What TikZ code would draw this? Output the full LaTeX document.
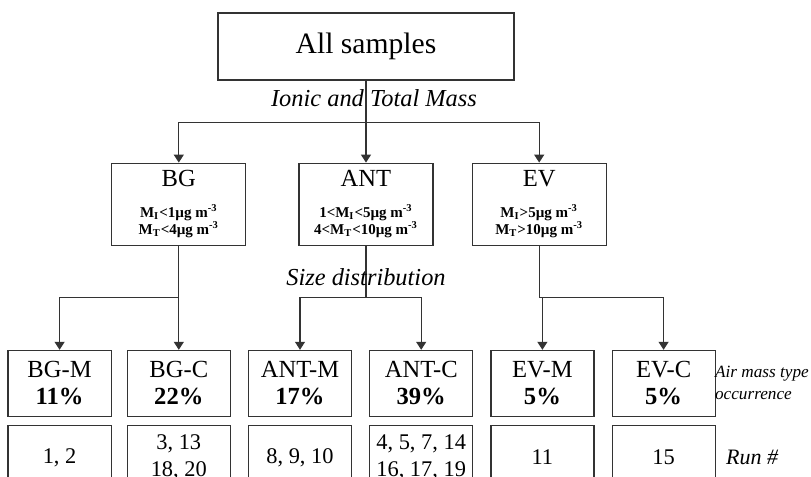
\documentclass[tikz,border=0pt]{standalone}
\usepackage{fontspec}
\setmainfont{Liberation Serif}
\usetikzlibrary{arrows.meta, positioning}

\newcommand{\classname}[1]{{\fontsize{12.3}{14}\selectfont\mdseries #1}}
\newcommand{\ugm}{µg m\textsuperscript{-3}}

\begin{document}
\begin{tikzpicture}[
    node distance=8pt and 8pt,
    box/.style={
        rectangle,
        draw=black!80,
        line width=0.6pt,
        align=center,
        inner sep=1pt
    },
    rootbox/.style={box, minimum width=148pt, minimum height=33.5pt, font=\fontsize{14.8}{17}\selectfont},
    classbox/.style={box, minimum width=67pt, minimum height=41pt, font=\fontsize{7.5}{8.5}\selectfont\bfseries},
    typebox/.style={box, minimum width=51.5pt, minimum height=33pt, font=\fontsize{12.3}{13.5}\selectfont},
    runbox/.style={box, minimum width=51.5pt, minimum height=32pt, font=\fontsize{11.2}{13.5}\selectfont},
    steplabel/.style={font=\fontsize{12.2}{14}\selectfont\itshape, inner sep=0pt},
    sidelabel/.style={align=left, inner sep=0pt},
    line/.style={draw=black!80, line width=0.6pt},
    arrow/.style={line, -{Triangle[length=4pt, width=5pt]}}
]

\path[use as bounding box, clip] (0,0) rectangle (405.5pt,-238.5pt);

% Root
\node[rootbox] (root) at (183pt,-23.25pt) {All samples};

% Mass classes
\node[classbox, below=41pt of root] (ant) {
    \classname{ANT}\\[7pt]
    1<M\textsubscript{I}<5\ugm\\
    4<M\textsubscript{T}<10\ugm
};
\node[classbox, left=26pt of ant] (bg) {
    \classname{BG}\\[7pt]
    M\textsubscript{I}<1\ugm\\
    M\textsubscript{T}<4\ugm
};
\node[classbox, right=19pt of ant] (ev) {
    \classname{EV}\\[7pt]
    M\textsubscript{I}>5\ugm\\
    M\textsubscript{T}>10\ugm
};

% Air mass types
\node[typebox, below=52pt of bg] (bgc) {BG-C\\\textbf{22\%}};
\node[typebox, left=7.5pt of bgc] (bgm) {BG-M\\\textbf{11\%}};
\node[typebox, right=8.5pt of bgc] (antm) {ANT-M\\\textbf{17\%}};
\node[typebox, right=8.5pt of antm] (antc) {ANT-C\\\textbf{39\%}};
\node[typebox, right=8.5pt of antc] (evm) {EV-M\\\textbf{5\%}};
\node[typebox, right=8.5pt of evm] (evc) {EV-C\\\textbf{5\%}};

% Runs
\node[runbox, below=4pt of bgm] (bgmrun) {1, 2};
\node[runbox, below=4pt of bgc] (bgcrun) {3, 13\\18, 20};
\node[runbox, below=4pt of antm] (antmrun) {8, 9, 10};
\node[runbox, below=4pt of antc] (antcrun) {4, 5, 7, 14\\16, 17, 19};
\node[runbox, below=4pt of evm] (evmrun) {11};
\node[runbox, below=4pt of evc] (evcrun) {15};

% Row labels
\node[sidelabel, right=-0.5pt of evc, font=\fontsize{8.6}{11}\selectfont\itshape] (typelabel) {Air mass type\\occurrence};
\node[sidelabel, right=5pt of evcrun, font=\fontsize{11}{13}\selectfont\itshape] (runlabel) {Run \#};

% Forks
\coordinate[below=21pt of root] (forkroot);
\coordinate[below=26pt of bg] (forkbg);
\coordinate[below=26pt of ant] (forkant);
\coordinate[below=26pt of ev] (forkev);

% Connectors
\draw[line] (root) -- node[steplabel, xshift=4pt, yshift=1.5pt] {Ionic and Total Mass} (forkroot);
\draw[arrow] (forkroot) -| (bg);
\draw[arrow] (forkroot) -- (ant);
\draw[arrow] (forkroot) -| (ev);

\draw[line] (bg) -- (forkbg);
\draw[arrow] (forkbg) -| (bgm);
\draw[arrow] (forkbg) -- (bgc);

\draw[line] (ant) -- node[steplabel, yshift=-2.5pt] {Size distribution} (forkant);
\draw[arrow] (forkant) -| (antm);
\draw[arrow] (forkant) -| (antc);

\draw[line] (ev) -- (forkev);
\draw[arrow] (forkev) -| (evm);
\draw[arrow] (forkev) -| (evc);

\end{tikzpicture}
\end{document}
